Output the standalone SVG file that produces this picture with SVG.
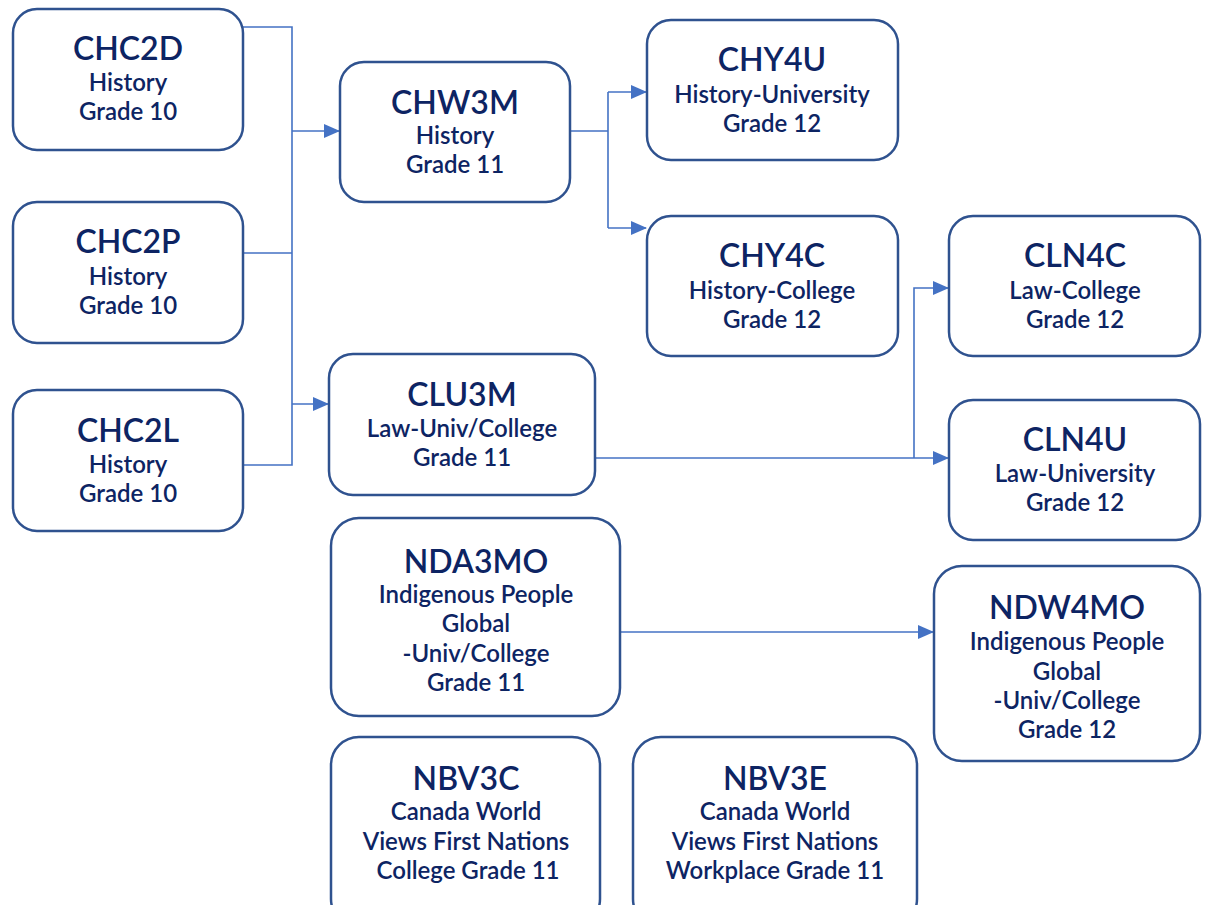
<svg xmlns="http://www.w3.org/2000/svg" width="1206" height="905" viewBox="0 0 1206 905">
<style>
.box{fill:#fff;stroke:#2f528f;stroke-width:2.5}
.t{font-family:"Lato","Noto Sans",sans-serif;fill:#0d2463;text-anchor:middle}
.h{font-size:32px;font-weight:600}
.s{font-size:24px;font-weight:600}
.c{fill:none;stroke:#4472c4;stroke-width:1.6}
</style>
<defs>
<marker id="a" markerWidth="16" markerHeight="14" refX="15" refY="7" orient="auto" markerUnits="userSpaceOnUse" viewBox="0 0 16 14"><path d="M0,0 L16,7 L0,14 z" fill="#4472c4"/></marker>
</defs>
<rect width="1206" height="905" fill="#fff"/>
<g id="connectors">
<path class="c" d="M243,27 H292 V465 H243 M243,253 H292"/>
<path class="c" d="M292,131 H339" marker-end="url(#a)"/>
<path class="c" d="M292,404 H328" marker-end="url(#a)"/>
<path class="c" d="M570,131 H608 M608,92 V228"/>
<path class="c" d="M608,92 H646" marker-end="url(#a)"/>
<path class="c" d="M608,228 H646" marker-end="url(#a)"/>
<path class="c" d="M595,458 H948" marker-end="url(#a)"/>
<path class="c" d="M914,458 V288 H948" marker-end="url(#a)"/>
<path class="c" d="M620,632 H933" marker-end="url(#a)"/>
</g>
<g id="CHC2D"><rect class="box" x="13" y="9" width="230" height="141" rx="24"/>
<text class="t h" x="128" y="60">CHC2D</text><text class="t s" x="128" y="91">History</text><text class="t s" x="128" y="120">Grade 10</text></g>
<g id="CHC2P"><rect class="box" x="13" y="202" width="230" height="141" rx="24"/>
<text class="t h" x="128" y="253">CHC2P</text><text class="t s" x="128" y="285">History</text><text class="t s" x="128" y="314">Grade 10</text></g>
<g id="CHC2L"><rect class="box" x="13" y="390" width="230" height="141" rx="24"/>
<text class="t h" x="128" y="442">CHC2L</text><text class="t s" x="128" y="473">History</text><text class="t s" x="128" y="502">Grade 10</text></g>
<g id="CHW3M"><rect class="box" x="340" y="62" width="230" height="140" rx="24"/>
<text class="t h" x="455" y="114">CHW3M</text><text class="t s" x="455" y="144">History</text><text class="t s" x="455" y="173">Grade 11</text></g>
<g id="CLU3M"><rect class="box" x="329" y="354" width="266" height="141" rx="24"/>
<text class="t h" x="462" y="406">CLU3M</text><text class="t s" x="462" y="437">Law-Univ/College</text><text class="t s" x="462" y="466">Grade 11</text></g>
<g id="CHY4U"><rect class="box" x="647" y="20" width="251" height="140" rx="24"/>
<text class="t h" x="772" y="71">CHY4U</text><text class="t s" x="772" y="103">History-University</text><text class="t s" x="772" y="132">Grade 12</text></g>
<g id="CHY4C"><rect class="box" x="647" y="216" width="251" height="140" rx="24"/>
<text class="t h" x="772" y="267">CHY4C</text><text class="t s" x="772" y="299">History-College</text><text class="t s" x="772" y="328">Grade 12</text></g>
<g id="CLN4C"><rect class="box" x="949" y="216" width="251" height="140" rx="24"/>
<text class="t h" x="1075" y="267">CLN4C</text><text class="t s" x="1075" y="299">Law-College</text><text class="t s" x="1075" y="328">Grade 12</text></g>
<g id="CLN4U"><rect class="box" x="949" y="400" width="251" height="140" rx="24"/>
<text class="t h" x="1075" y="451">CLN4U</text><text class="t s" x="1075" y="482">Law-University</text><text class="t s" x="1075" y="511">Grade 12</text></g>
<g id="NDA3MO"><rect class="box" x="331" y="518" width="289" height="198" rx="28"/>
<text class="t h" x="476" y="573">NDA3MO</text><text class="t s" x="476" y="603">Indigenous People</text><text class="t s" x="476" y="632">Global</text><text class="t s" x="476" y="662">-Univ/College</text><text class="t s" x="476" y="691">Grade 11</text></g>
<g id="NDW4MO"><rect class="box" x="934" y="566" width="266" height="195" rx="28"/>
<text class="t h" x="1067" y="619">NDW4MO</text><text class="t s" x="1067" y="650">Indigenous People</text><text class="t s" x="1067" y="680">Global</text><text class="t s" x="1067" y="709">-Univ/College</text><text class="t s" x="1067" y="738">Grade 12</text></g>
<g id="NBV3C"><rect class="box" x="331" y="737" width="269" height="190" rx="28"/>
<text class="t h" x="466" y="790">NBV3C</text><text class="t s" x="466" y="820">Canada World</text><text class="t s" x="466" y="850">Views First Nations</text><text class="t s" x="468" y="879">College Grade 11</text></g>
<g id="NBV3E"><rect class="box" x="633" y="737" width="284" height="190" rx="28"/>
<text class="t h" x="775" y="790">NBV3E</text><text class="t s" x="775" y="820">Canada World</text><text class="t s" x="775" y="850">Views First Nations</text><text class="t s" x="775" y="879">Workplace Grade 11</text></g>
</svg>
